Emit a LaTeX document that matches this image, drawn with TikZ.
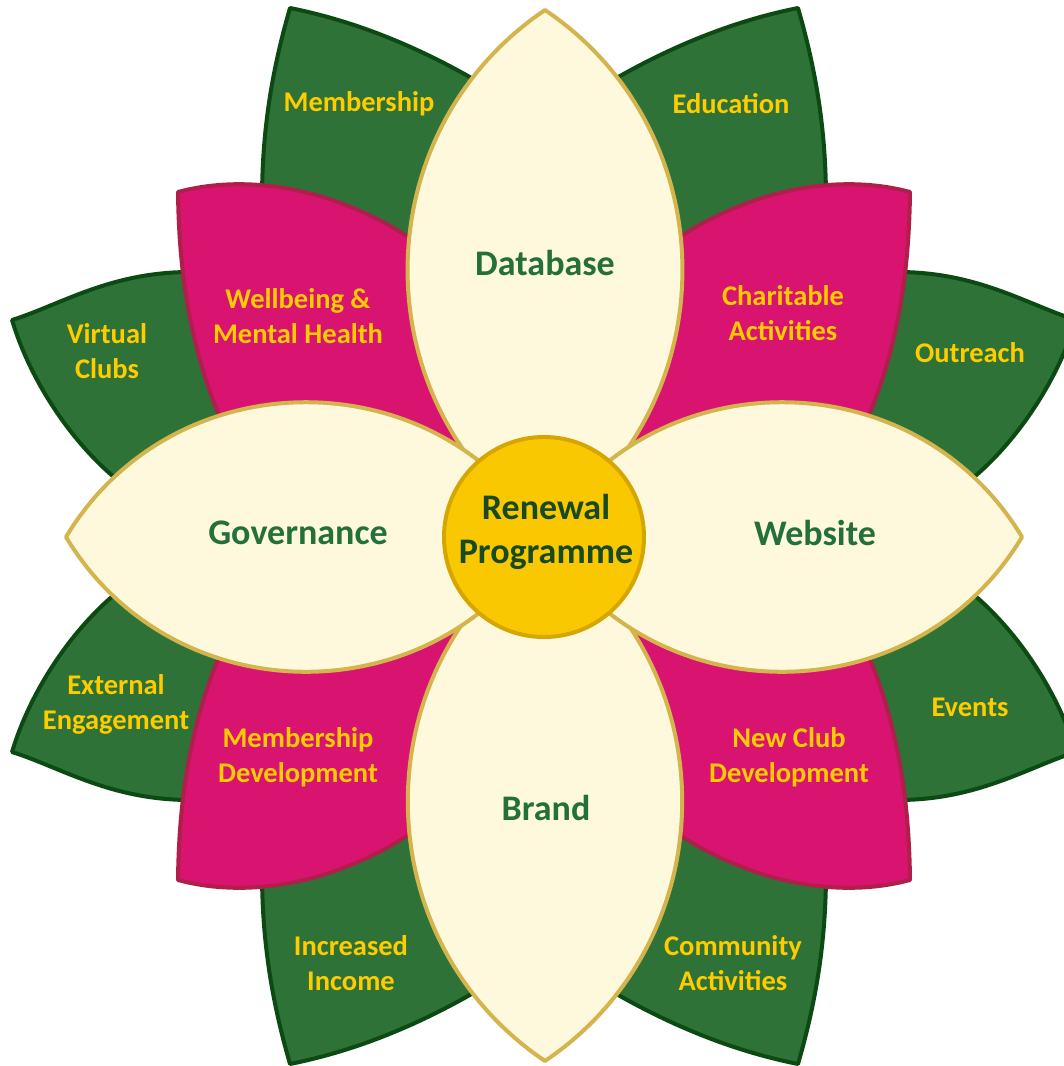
\documentclass[tikz,border=0pt]{standalone}
\usepackage{fontspec}
\setmainfont{Carlito}
\usepackage{tikz}

\definecolor{leafgreen}{HTML}{2E7237}
\definecolor{leafedge}{HTML}{0B4A12}
\definecolor{pinkfill}{HTML}{D91470}
\definecolor{pinkedge}{HTML}{B01E4C}
\definecolor{creamfill}{HTML}{FEF8DC}
\definecolor{creamedge}{HTML}{D4B44C}
\definecolor{hubfill}{HTML}{FAC800}
\definecolor{hubedge}{HTML}{D6A600}
\definecolor{goldtext}{HTML}{FFCC00}
\definecolor{greentext}{HTML}{24703A}
\definecolor{hubtext}{HTML}{174A22}

\tikzset{
	greenleaf/.style={fill=leafgreen, draw=leafedge, line width=4pt, line join=round},
	pinkpetal/.style={fill=pinkfill, draw=pinkedge, line width=4pt, line join=round},
	creampetal/.style={fill=creamfill, draw=creamedge, line width=4pt, line join=round},
	hub/.style={fill=hubfill, draw=hubedge, line width=4pt},
	leaftext/.style={text=goldtext, align=center, font=\bfseries\fontsize{28.5}{35}\selectfont},
	petaltext/.style={text=greentext, align=center, font=\bfseries\fontsize{36}{44}\selectfont},
	hubtext/.style={text=hubtext, align=center, font=\bfseries\fontsize{36}{44}\selectfont}
}

\begin{document}
\begin{tikzpicture}[x=1pt, y=-1pt]
			%%%%% START %%%%%
			\useasboundingbox (0,0) rectangle (1064,1066);
			
			% green leaves
			\draw[greenleaf] (544,536) -- (262,200) .. controls (262,130) and (272,70) .. (290,8) .. controls (350,20) and (420,45) .. (500,95) -- cycle;
			\draw[greenleaf] (544,536) -- (826,200) .. controls (826,130) and (816,70) .. (798,8) .. controls (738,20) and (668,45) .. (588,95) -- cycle;
			\draw[greenleaf] (544,536) -- (262,872) .. controls (262,942) and (272,1002) .. (290,1064) .. controls (350,1052) and (420,1027) .. (500,977) -- cycle;
			\draw[greenleaf] (544,536) -- (826,872) .. controls (826,942) and (816,1002) .. (798,1064) .. controls (738,1052) and (668,1027) .. (588,977) -- cycle;
			
			\draw[greenleaf] (544,536) -- (260,300) -- (190,272) .. controls (110,272) and (60,305) .. (12,320) .. controls (30,380) and (70,440) .. (115,478) -- cycle;
			\draw[greenleaf] (544,536) -- (828,300) -- (898,272) .. controls (978,272) and (1028,305) .. (1076,320) .. controls (1058,380) and (1018,440) .. (973,478) -- cycle;
			\draw[greenleaf] (544,536) -- (260,772) -- (190,800) .. controls (110,800) and (60,767) .. (12,752) .. controls (30,692) and (70,632) .. (115,594) -- cycle;
			\draw[greenleaf] (544,536) -- (828,772) -- (898,800) .. controls (978,800) and (1028,767) .. (1076,752) .. controls (1058,692) and (1018,632) .. (973,594) -- cycle;
			
			% pink petals
			\draw[pinkpetal] (544,536) -- (440,260) .. controls (360,195) and (260,170) .. (178,192) .. controls (179,280) and (192,360) .. (230,440) -- cycle;
			\draw[pinkpetal] (544,536) -- (648,260) .. controls (728,195) and (828,170) .. (910,192) .. controls (909,280) and (896,360) .. (858,440) -- cycle;
			\draw[pinkpetal] (544,536) -- (440,812) .. controls (360,877) and (260,902) .. (178,880) .. controls (179,792) and (192,712) .. (230,632) -- cycle;
			\draw[pinkpetal] (544,536) -- (648,812) .. controls (728,877) and (828,902) .. (910,880) .. controls (909,792) and (896,712) .. (858,632) -- cycle;
			
			% cream petals
			\draw[creampetal] (545,10) to[bend left=56, looseness=1.09] (545,530) to[bend left=56, looseness=1.09] (545,10) -- cycle;
			\draw[creampetal] (545,1061) to[bend left=56, looseness=1.09] (545,542) to[bend left=56, looseness=1.09] (545,1061) -- cycle;
			\draw[creampetal] (66,537) to[bend left=59, looseness=1.12] (546,537) to[bend left=59, looseness=1.12] (66,537) -- cycle;
			\draw[creampetal] (1022,537) to[bend left=59, looseness=1.12] (542,537) to[bend left=59, looseness=1.12] (1022,537) -- cycle;
			
			\draw[hub] (544,537) circle (100);
			
			% labels
			\node[hubtext] (renewal) at (546,532) {Renewal\\Programme};
			\node[petaltext] (database) at (545,263) {Database};
			\node[petaltext] (governance) at (298,533) {Governance};
			\node[petaltext] (website) at (815,533) {Website};
			\node[petaltext] (brand) at (546,808) {Brand};
			
			\node[leaftext] (wellbeing) at (298,316) {Wellbeing \&\\Mental Health};
			\node[leaftext] (charitable) at (783,313) {Charitable\\Activities};
			\node[leaftext] (memberdev) at (298,757) {Membership\\Development};
			\node[leaftext] (newclub) at (789,757) {New Club\\Development};
			
			\node[leaftext] (membership) at (359,104) {Membership};
			\node[leaftext] (education) at (731,104) {Education};
			\node[leaftext] (virtual) at (107,351) {Virtual\\Clubs};
			\node[leaftext] (outreach) at (970,353) {Outreach};
			\node[leaftext] (external) at (116,704) {External\\Engagement};
			\node[leaftext] (events) at (970,707) {Events};
			\node[leaftext] (income) at (351,963) {Increased\\Income};
			\node[leaftext] (community) at (733,963) {Community\\Activities};
			
			%%%%% END %%%%%
		\end{tikzpicture}
\end{document}
